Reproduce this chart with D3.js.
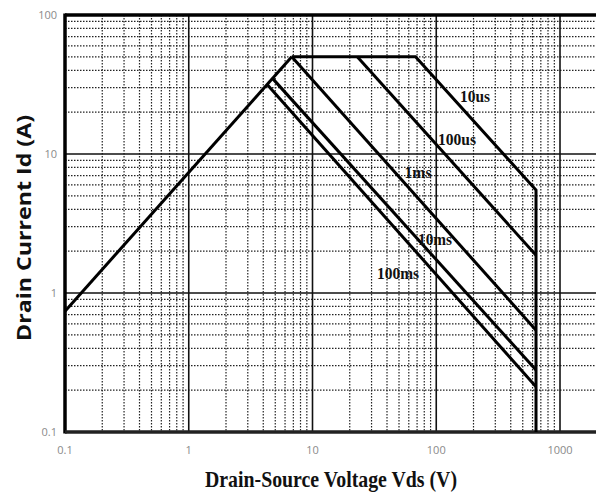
<!DOCTYPE html>
<html>
<head>
<meta charset="utf-8">
<script src="https://cdn.jsdelivr.net/npm/d3@7"></script>
<style>
  html, body { margin: 0; padding: 0; background: #fff; }
  svg { display: block; }
</style>
</head>
<body>
<svg id="chart" width="596" height="494"></svg>
<script>
// ---- data ----
const xTicks = [0.1, 1, 10, 100, 1000];
const yTicks = [0.1, 1, 10, 100];
const xTickLabels = ["0.1", "1", "10", "100", "1000"];
const yTickLabels = ["0.1", "1", "10", "100"];

const curveNames = ["RDS(on)", "10us", "100us", "1ms", "10ms", "100ms"];
const vdsRds   = [0.1, 6.8];
const idRds    = [0.74, 50];
const vds10us  = [6.8, 68, 640, 640];
const id10us   = [50, 50, 5.5, 0.1];
const vds100us = [23, 640];
const id100us  = [50, 1.87];
const vds1ms   = [6.8, 640];
const id1ms    = [50, 0.54];
const vds10ms  = [4.75, 640];
const id10ms   = [35, 0.279];
const vds100ms = [4.3, 640];
const id100ms  = [31.6, 0.212];

const xTitle = "Drain-Source Voltage Vds (V)";
const yTitle = "Drain Current Id (A)";

// ---- layout ----
const svg = d3.select("#chart");
const pL = 65, pR = 596, pT = 15, pB = 432;

const x = d3.scaleLog().domain([0.1, 1000]).range([pL, 560]);
const y = d3.scaleLog().domain([0.1, 100]).range([pB, pT]);
const xMax = x.invert(pR);

// minor gridlines
const xMinor = [], yMinor = [];
[0.1, 1, 10, 100, 1000].forEach(d => {
  for (let k = 2; k <= 9; k++) {
    const v = +(d * k).toPrecision(3);
    if (v < xMax) xMinor.push(v);
    if (d < 100) yMinor.push(v);
  }
});

const g = svg.append("g");

g.selectAll("line.xminor").data(xMinor).join("line")
  .attr("x1", d => x(d)).attr("x2", d => x(d))
  .attr("y1", pT).attr("y2", pB)
  .attr("stroke", "#222").attr("stroke-width", 1.2)
  .attr("stroke-dasharray", "1.5,1.5");

g.selectAll("line.yminor").data(yMinor).join("line")
  .attr("x1", pL).attr("x2", pR)
  .attr("y1", d => y(d)).attr("y2", d => y(d))
  .attr("stroke", "#222").attr("stroke-width", 1.2)
  .attr("stroke-dasharray", "1.5,1.5");

// major gridlines
g.selectAll("line.xmajor").data(xTicks).join("line")
  .attr("x1", d => x(d)).attr("x2", d => x(d))
  .attr("y1", pT).attr("y2", pB)
  .attr("stroke", "#111").attr("stroke-width", 1.6);

g.selectAll("line.ymajor").data(yTicks).join("line")
  .attr("x1", pL).attr("x2", pR)
  .attr("y1", d => y(d)).attr("y2", d => y(d))
  .attr("stroke", "#111").attr("stroke-width", 1.6);

// frame
g.append("line").attr("x1", pL).attr("x2", pR).attr("y1", pT).attr("y2", pT)
  .attr("stroke", "#000").attr("stroke-width", 3.5);
g.append("line").attr("x1", pL).attr("x2", pL).attr("y1", pT - 1.5).attr("y2", pB + 1.5)
  .attr("stroke", "#000").attr("stroke-width", 3.5);
g.append("line").attr("x1", pL).attr("x2", pR).attr("y1", pB).attr("y2", pB)
  .attr("stroke", "#222").attr("stroke-width", 3.5);

// tick labels
svg.append("g").selectAll("text").data(yTicks).join("text")
  .attr("x", 57).attr("y", d => y(d) + 4)
  .attr("text-anchor", "end")
  .attr("font-family", "Open Sans, sans-serif").attr("font-size", 11)
  .attr("fill", "#8a8a8a")
  .text((d, i) => yTickLabels[i]);

svg.append("g").selectAll("text").data(xTicks).join("text")
  .attr("x", d => x(d)).attr("y", 454)
  .attr("text-anchor", "middle")
  .attr("font-family", "Open Sans, sans-serif").attr("font-size", 11)
  .attr("fill", "#8a8a8a")
  .text((d, i) => xTickLabels[i]);

// curves
const curves = [
  [vdsRds, idRds], [vds10us, id10us], [vds100us, id100us],
  [vds1ms, id1ms], [vds10ms, id10ms], [vds100ms, id100ms]
];
const line = d3.line().x(p => x(p[0])).y(p => y(p[1]));
svg.append("g").selectAll("path").data(curves).join("path")
  .attr("d", c => line(c[0].map((v, i) => [v, c[1][i]])))
  .attr("fill", "none").attr("stroke", "#000")
  .attr("stroke-width", 3).attr("stroke-linejoin", "miter");

// curve labels: [centre x, baseline y, width]
const labelPos = [null, [475, 102, 30], [457, 145, 38], [418, 178, 27], [435, 245, 34], [398, 279, 42]];
svg.append("g").selectAll("text").data(curveNames.slice(1)).join("text")
  .attr("x", (d, i) => labelPos[i + 1][0]).attr("y", (d, i) => labelPos[i + 1][1])
  .attr("text-anchor", "middle")
  .attr("font-family", "Liberation Serif, Times New Roman, serif")
  .attr("font-weight", "bold").attr("font-size", 17)
  .attr("textLength", (d, i) => labelPos[i + 1][2]).attr("lengthAdjust", "spacingAndGlyphs")
  .attr("fill", "#111")
  .text(d => d);

// axis titles
svg.append("text")
  .attr("x", 331).attr("y", 487)
  .attr("text-anchor", "middle")
  .attr("font-family", "Liberation Serif, Times New Roman, serif")
  .attr("font-weight", "bold").attr("font-size", 24)
  .attr("textLength", 252).attr("lengthAdjust", "spacingAndGlyphs")
  .attr("fill", "#111")
  .text(xTitle);

svg.append("text")
  .attr("transform", "translate(31,228) rotate(-90)")
  .attr("text-anchor", "middle")
  .attr("font-family", "Open Sans, sans-serif")
  .attr("font-weight", "bold").attr("font-size", 20)
  .attr("textLength", 226).attr("lengthAdjust", "spacingAndGlyphs")
  .attr("fill", "#111")
  .text(yTitle);
</script>
</body>
</html>
